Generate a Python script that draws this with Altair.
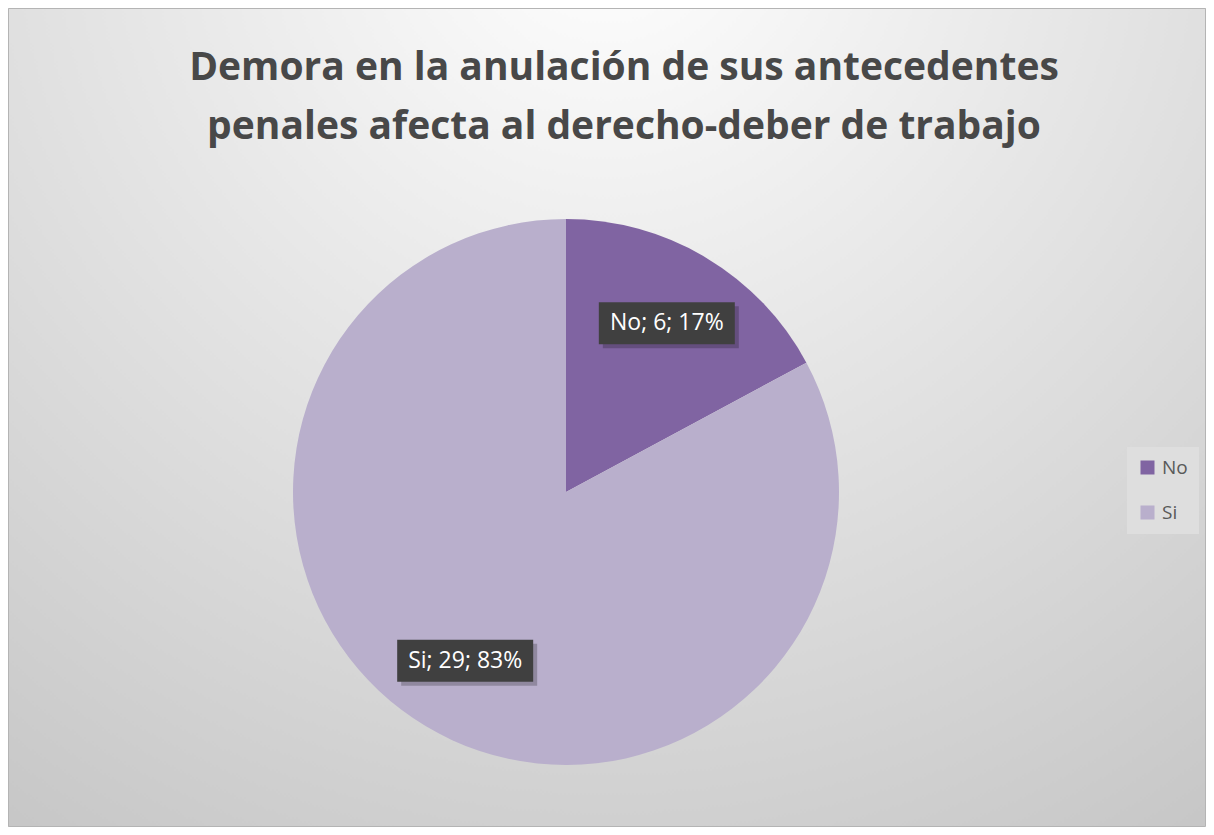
import altair as alt
import pandas as pd
import math

# ---- data ----
categories = ["No", "Si"]
values = [6, 29]
colors = ["#8064A2", "#B9AFCC"]
title_lines = ["Demora en la anulación de sus antecedentes",
               "penales afecta al derecho-deber de trabajo"]

# ---- layout / style constants ----
W, H = 1198, 819
CX, CY, R = 558, 484, 273
LABEL_R = 0.72 * R
BOX_HW, BOX_HH = 68, 21
FONT = "Open Sans"

total = sum(values)
rows = []
cum = 0
for i, (c, v) in enumerate(zip(categories, values)):
    mid = (cum + v / 2) / total * 2 * math.pi
    cum += v
    lx = CX + LABEL_R * math.sin(mid)
    ly = CY - LABEL_R * math.cos(mid)
    rows.append({
        "cat": c, "value": v, "order": i,
        "label": f"{c}; {v}; {round(v / total * 100)}%",
        "lx": lx, "ly": ly,
        "bx1": lx - BOX_HW, "bx2": lx + BOX_HW,
        "by1": ly - BOX_HH, "by2": ly + BOX_HH,
        "sx1": lx - BOX_HW + 4, "sx2": lx + BOX_HW + 4,
        "sy1": ly - BOX_HH + 4, "sy2": ly + BOX_HH + 4,
    })
df = pd.DataFrame(rows)
tdf = pd.DataFrame({"line": title_lines, "i": list(range(len(title_lines)))})

bg = alt.Chart(alt.Data(values=[{"a": 1}])).mark_rect(
    fill=alt.Gradient(
        gradient="radial", x1=0.5, y1=0.08, r1=0, x2=0.5, y2=0.08, r2=0.95,
        stops=[alt.GradientStop(color="#ffffff", offset=0),
               alt.GradientStop(color="#c4c4c4", offset=1)]),
    stroke="#b4b4b4", strokeWidth=1,
).encode(x=alt.value(0.5), x2=alt.value(W - 0.5), y=alt.value(0.5), y2=alt.value(H - 0.5))

pie = alt.Chart(df).mark_arc(outerRadius=R, stroke=None).encode(
    theta=alt.Theta("value:Q", stack=True),
    order=alt.Order("order:Q"),
    color=alt.Color("cat:N", scale=alt.Scale(domain=categories, range=colors),
                    legend=alt.Legend(title=None, orient="none", legendX=1119, legendY=439,
                                      fillColor="#dedede", padding=11, symbolType="square",
                                      symbolSize=196, symbolStrokeWidth=0, labelFontSize=19,
                                      labelFont=FONT, labelColor="#595959", rowPadding=25,
                                      labelOffset=5)),
    x=alt.value(CX), y=alt.value(CY),
)

shadow = alt.Chart(df).mark_rect(fill="#000000", opacity=0.22).encode(
    x=alt.X("sx1:Q", scale=None), x2="sx2:Q",
    y=alt.Y("sy1:Q", scale=None), y2="sy2:Q")

box = alt.Chart(df).mark_rect(fill="#404040").encode(
    x=alt.X("bx1:Q", scale=None), x2="bx2:Q",
    y=alt.Y("by1:Q", scale=None), y2="by2:Q")

labels = alt.Chart(df).mark_text(font=FONT, fontSize=23, color="#ffffff",
                                 align="center", baseline="middle").encode(
    x=alt.X("lx:Q", scale=None), y=alt.Y("ly:Q", scale=None), text="label:N")

title = alt.Chart(tdf).transform_calculate(
    ty="60 + datum.i * 59").mark_text(
    font=FONT, fontSize=39, fontWeight="bold", color="#484848",
    align="center", baseline="middle").encode(
    x=alt.value(616), y=alt.Y("ty:Q", scale=None), text="line:N")

chart = alt.layer(bg, pie, shadow, box, labels, title).properties(
    width=W, height=H, padding=0, autosize=alt.AutoSizeParams(type="none")
).configure_view(stroke=None).configure(background="#ffffff")

chart.save("out.html", embed_options={"renderer": "svg", "actions": False})
